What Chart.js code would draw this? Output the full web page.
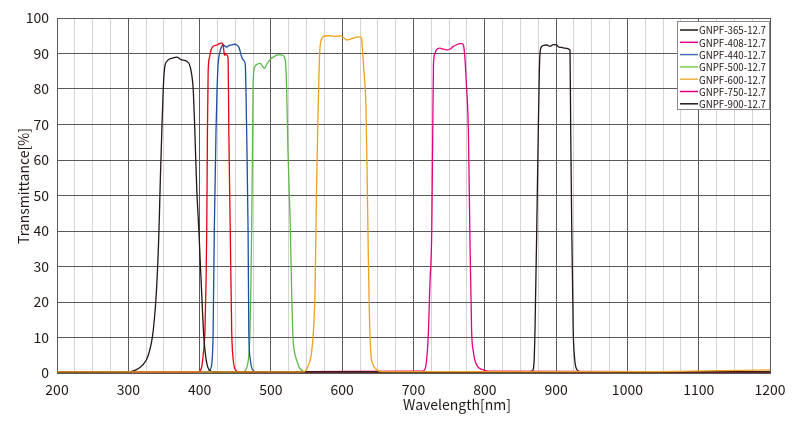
<!DOCTYPE html>
<html>
<head>
<meta charset="utf-8">
<script src="https://cdn.jsdelivr.net/npm/chart.js@4.4.0/dist/chart.umd.min.js"></script>
<style>
html,body{margin:0;padding:0;background:#fff;}
canvas{display:block;}
</style>
</head>
<body>
<canvas id="c" width="800" height="429"></canvas>
<script>
// ---- data (wavelength nm, transmittance %) ----
const seriesNames = ["GNPF-365-12.7","GNPF-408-12.7","GNPF-440-12.7","GNPF-500-12.7","GNPF-600-12.7","GNPF-750-12.7","GNPF-900-12.7"];
const lineColors = ["#231815","#e60012","#1d4fa0","#5cb947","#eea11b","#e4007f","#231815"];
const legendColors = ["#231815","#e4007f","#4a6fb5","#7fcb5f","#f0b040","#e4007f","#231815"];
const xTitle = "Wavelength[nm]";
const yTitle = "Transmittance[%]";

const s365 = [[200,0.2],[300,0.3],[310,0.8],[320,2.2],[328,5],[335,12],[340,25],[343,40],[345,55],[347,68],[349,80],[351,86],[355,88],[362,88.7],[368,89],[374,88.3],[382,87.8],[386,86.8],[389,84],[391,80],[393,70],[396,52],[399,40],[403,22],[406,10],[409,4],[413,1],[420,0.3],[1200,0.3]];
const s408 = [[200,0.3],[398,0.3],[402,1],[405,5],[407.5,12],[409,25],[410,40],[411,68],[412,85],[414,89],[416,91],[419,92],[424,92.4],[428,92.8],[431,93],[433,92.4],[435,89.5],[436.5,90],[438,89.6],[440,88.7],[441,68],[443,40],[445,12],[447,4],[450,1],[455,0.3],[1200,0.3]];
const s440 = [[200,0.3],[410,0.3],[415,1],[418,5],[419,12],[420.6,40],[423,68],[424.5,80],[426,87],[428,90],[431,92],[433,92.4],[436,92],[438,91.8],[441,92.2],[445,92.4],[449,92.6],[452,92.4],[455,91.8],[457,90.5],[459,89],[462,88],[464,87],[465,80],[466,68],[468,40],[469,12],[471,4],[474,1],[480,0.3],[1200,0.3]];
const s500 = [[200,0.2],[460,0.3],[465,1],[469,5],[470.7,12],[472,25],[473,40],[474.4,68],[475,80],[476,85],[478,86.5],[481,87],[485,87.2],[488,86.5],[491,85.8],[493,86.5],[496,87.5],[500,88.5],[505,89.2],[510,89.6],[515,89.6],[519,89],[521,86],[522,80.6],[524,62],[527,43],[529,24],[531,10],[533,6],[536,3.7],[540,1.5],[545,0.5],[550,0.1],[1200,0]];
const s600 = [[200,0.3],[545,0.3],[550,1],[554,3],[557,5.6],[560,13],[562,24],[564,52],[566,72],[567,80.6],[568,88],[569,92],[571,94],[573,94.7],[578,95],[583,95],[590,94.8],[597,95],[602,94.5],[606,93.8],[610,94],[615,94.3],[620,94.6],[625,94.7],[627.3,94.3],[628.4,91],[630.5,85],[633.3,75],[635,55],[636.5,35],[638,18],[640,6],[643,2.5],[648,1],[655,0.4],[1000,0.4],[1200,0.9]];
const s750 = [[200,0.3],[550,0.4],[700,0.5],[712,0.5],[716,1],[719,5],[721,12],[723,25],[725.6,40],[727,68],[728,87],[730,90],[732,91],[737,91.5],[742,91.2],[746.5,91],[751,91.2],[756,92],[761,92.5],[765,92.8],[768,92.8],[770,92.4],[772,89],[774,82],[777,68],[779,40],[781.5,12],[784,6],[786,3.7],[790,1.8],[796,1],[805,0.5],[1200,0.3]];
const s900 = [[200,0.2],[860,0.2],[866,0.5],[868,1],[869.5,5],[870.4,12],[872.8,40],[875,68],[876.5,85],[877.4,90],[880,92],[883,92.3],[887,92.4],[891.4,92],[896,92.5],[900.8,92.4],[904,91.8],[907.8,91.7],[912.5,91.5],[919.5,91],[920.5,68],[922,40],[924,12],[926,4],[929,1],[935,0.3],[1200,0.3]];
const allSeries = [s365,s408,s440,s500,s600,s750,s900];
const drawOrder = [1,1,1,1,0,1,1];

const xMin = 200, xMax = 1200, xMinorStep = 25, xMajorStep = 100;
const yMin = 0, yMax = 100, yStep = 10;

const FONT = "'Noto Sans CJK JP','Noto Sans',sans-serif";
const MAJOR = "#5a5858";
const MINOR = "#d4d4d4";
const TEXT = "#231815";

const datasets = allSeries.map((s,i)=>({
  label: seriesNames[i],
  data: s.map(p=>({x:p[0],y:p[1]})),
  borderColor: lineColors[i],
  backgroundColor: lineColors[i],
  borderWidth: 1.3,
  pointRadius: 0,
  fill: false,
  cubicInterpolationMode: 'monotone',
  order: drawOrder[i]
}));

const legendPlugin = {
  id: 'boxLegend',
  afterDraw(chart){
    const ctx = chart.ctx;
    const ca = chart.chartArea;
    const w = 93, h = 89;
    const x0 = ca.right - w, y0 = ca.top + 3;
    ctx.save();
    ctx.fillStyle = '#fff';
    ctx.fillRect(x0, y0, w, h);
    ctx.strokeStyle = '#8a8a8a';
    ctx.lineWidth = 1;
    ctx.strokeRect(x0+0.5, y0+0.5, w-1, h-1);
    ctx.font = "10.5px " + FONT;
    const mw = ctx.measureText(seriesNames[0]).width;
    const sx = Math.min(1, 67 / mw);
    ctx.textBaseline = 'middle';
    ctx.textAlign = 'left';
    seriesNames.forEach((n,i)=>{
      const yy = y0 + 9 + i*12.3;
      ctx.strokeStyle = legendColors[i];
      ctx.lineWidth = 1.5;
      ctx.beginPath();
      ctx.moveTo(x0+3, yy);
      ctx.lineTo(x0+21, yy);
      ctx.stroke();
      ctx.fillStyle = TEXT;
      ctx.save();
      ctx.translate(x0+22, yy+0.5);
      ctx.scale(sx, 1);
      ctx.fillText(n, 0, 0);
      ctx.restore();
    });
    ctx.restore();
  }
};

const titlePlugin = {
  id: 'axisTitles',
  afterDraw(chart){
    const ctx = chart.ctx;
    ctx.save();
    ctx.fillStyle = TEXT;
    ctx.font = "14px " + FONT;
    ctx.textAlign = 'center';
    ctx.textBaseline = 'middle';
    ctx.fillText(xTitle, 457, 405);
    ctx.translate(24, 186);
    ctx.rotate(-Math.PI/2);
    ctx.fillText(yTitle, 0, 0);
    ctx.restore();
  }
};

new Chart(document.getElementById('c'), {
  type: 'line',
  data: { datasets },
  plugins: [legendPlugin, titlePlugin],
  options: {
    responsive: false,
    animation: false,
    layout: { padding: { top: 18, right: 30, left: 0, bottom: 0 } },
    plugins: { legend: { display: false }, tooltip: { enabled: false } },
    scales: {
      x: {
        type: 'linear',
        min: xMin, max: xMax,
        afterFit(s){ s.height = 56; },
        ticks: {
          stepSize: xMinorStep, autoSkip: false, maxRotation: 0, padding: 8,
          color: TEXT, font: { family: FONT, size: 14 },
          callback: v => (v % xMajorStep === 0 ? String(v) : '')
        },
        grid: {
          drawTicks: false,
          color: c => (c.tick && c.tick.value % xMajorStep === 0 ? MAJOR : MINOR),
          lineWidth: 1
        },
        border: { color: MAJOR, width: 1 },
        title: { display: false }
      },
      y: {
        min: yMin, max: yMax,
        afterFit(s){ s.width = 57; },
        ticks: { stepSize: yStep, padding: 8, color: TEXT, font: { family: FONT, size: 14 } },
        grid: { drawTicks: false, color: MAJOR, lineWidth: 1 },
        border: { color: MAJOR, width: 1 },
        title: { display: false }
      }
    }
  }
});
</script>
</body>
</html>
